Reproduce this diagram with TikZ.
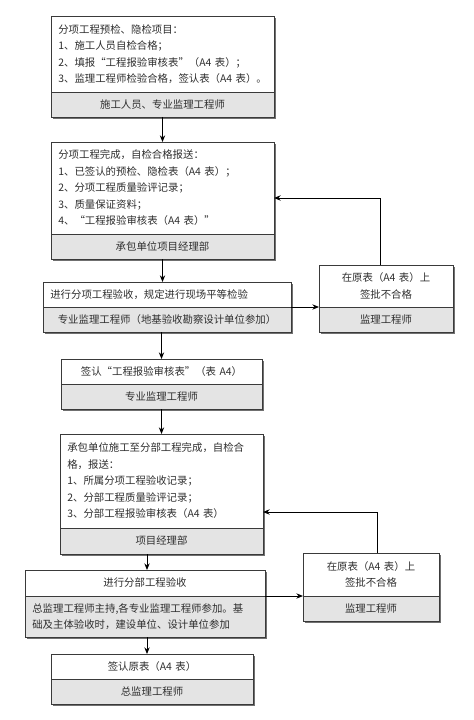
\documentclass[tikz,border=0pt]{standalone}
\usepackage{fontspec}
\usepackage{tikz}
\usetikzlibrary{arrows.meta,shadows}
\newfontfamily\cjkfont{Noto Sans CJK SC}
\definecolor{linec}{HTML}{3A3A3A}
\definecolor{textc}{HTML}{2E2E2E}
\definecolor{boxgray}{HTML}{E4E4E4}
\definecolor{shadowc}{HTML}{707070}

\begin{document}
\begin{tikzpicture}[
    x=0.75pt, y=-0.75pt,
    >={Stealth[length=5pt,width=4pt]},
    part/.style={draw=linec, line width=0.7pt, text=textc, inner xsep=5.5pt, inner ysep=2pt, outer sep=0pt,
        font=\cjkfont\fontsize{7.8}{12.4}\selectfont,
        drop shadow={shadow xshift=1.3pt, shadow yshift=-1.3pt, fill=shadowc, opacity=1}},
    upper/.style={part, fill=white, align=left, anchor=north},
    lower/.style={part, fill=boxgray, align=center, anchor=north},
    flow/.style={->, draw=black, line width=0.7pt}
]
    \useasboundingbox (0,0) rectangle (474,720);

    % main column
    \node[upper, text width=156.25pt, minimum height=57pt] (p1a) at (162.5,16)
        {分项工程预检、隐检项目：\\1、施工人员自检合格；\\2、填报“工程报验审核表”（A4~表）；\\3、监理工程师检验合格，签认表（A4~表）。};
    \node[lower, text width=156.25pt, minimum height=18.75pt] (p1b) at (p1a.south) {施工人员、专业监理工程师};

    \node[upper, text width=156.25pt, minimum height=69pt] (p2a) at (162.5,142)
        {分项工程完成，自检合格报送：\\1、已签认的预检、隐检表（A4~表）；\\2、分项工程质量验评记录；\\3、质量保证资料；\\4、“工程报验审核表（A4~表）”};
    \node[lower, text width=156.25pt, minimum height=18.75pt] (p2b) at (p2a.south) {承包单位项目经理部};

    \node[upper, text width=175pt, minimum height=18.75pt] (p3a) at (167,282) {进行分项工程验收，规定进行现场平等检验};
    \node[lower, text width=175pt, minimum height=18.75pt] (p3b) at (p3a.south) {专业监理工程师（地基验收勘察设计单位参加）};

    \node[upper, align=center, text width=139.75pt, minimum height=18.75pt] (p4a) at (161.5,359) {签认“工程报验审核表”（表~A4）};
    \node[lower, text width=139.75pt, minimum height=18.75pt] (p4b) at (p4a.south) {专业监理工程师};

    \node[upper, text width=141.25pt, minimum height=70.5pt] (p5a) at (161.5,434)
        {承包单位施工至分部工程完成，自检合\\格，报送：\\1、所属分项工程验收记录；\\2、分部工程质量验评记录；\\3、分部工程报验审核表（A4~表）};
    \node[lower, text width=141.25pt, minimum height=19.5pt] (p5b) at (p5a.south) {项目经理部};

    \node[upper, align=center, text width=169pt, minimum height=19.5pt] (p6a) at (145,570) {进行分部工程验收};
    \node[lower, align=left, text width=169pt, minimum height=30.75pt] (p6b) at (p6a.south)
        {总监理工程师主持,各专业监理工程师参加。基\\础及主体验收时，建设单位、设计单位参加};

    \node[upper, align=center, text width=140.5pt, minimum height=18.75pt] (p7a) at (152,654) {签认原表（A4~表）};
    \node[lower, text width=140.5pt, minimum height=18.75pt] (p7b) at (p7a.south) {总监理工程师};

    % rejection boxes
    \node[upper, align=center, text width=89.5pt, minimum height=31.5pt] (r1a) at (386,265) {在原表（A4~表）上\\签批不合格};
    \node[lower, text width=89.5pt, minimum height=18.75pt] (r1b) at (r1a.south) {监理工程师};

    \node[upper, align=center, text width=91pt, minimum height=32.25pt] (r2a) at (371,553) {在原表（A4~表）上\\签批不合格};
    \node[lower, text width=91pt, minimum height=18.75pt] (r2b) at (r2a.south) {监理工程师};

    \coordinate (f1) at (380,198);
    \coordinate (f2) at (377,512);
    \coordinate (c56) at (147,0);

    % connectors
    \draw[flow] (p1b.south) -- (p2a.north);
    \draw[flow] (p2b.south) -- (p2b.south |- p3a.north);
    \draw[flow] (p3b.south -| p4a.north) -- (p4a.north);
    \draw[flow] (p4b.south) -- (p5a.north);
    \draw[flow] (p5b.south -| c56) -- (p6a.north -| c56);
    \draw[flow] (p6b.south -| c56) -- (p7a.north -| c56);
    \draw[flow] (p3a.south east) -- (r1a.south west);
    \draw[flow] (p6a.south east) -- (r2a.south west);
    \draw[flow] (r1a.north -| f1) |- (p2a.east |- f1);
    \draw[flow] (r2a.north -| f2) |- (p5a.east |- f2);
\end{tikzpicture}
\end{document}
